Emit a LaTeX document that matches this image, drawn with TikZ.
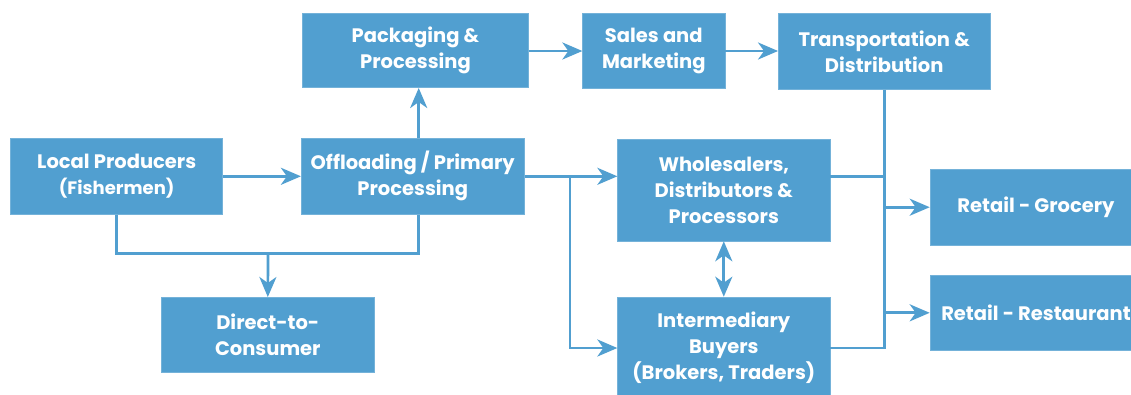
\documentclass[tikz,border=0pt]{standalone}
\usepackage{fontspec}
\setmainfont{Poppins}
\usetikzlibrary{arrows.meta}
\definecolor{boxblue}{RGB}{81,159,208}
\tikzset{
  x=1pt, y=-1pt,
  box/.style={rectangle, fill=boxblue, draw=boxblue!80!white, line width=0.6pt, text=white, align=center,
    font=\fontsize{19.5}{26}\selectfont\bfseries, inner sep=0pt},
  conn/.style={draw=boxblue, line width=2.7pt},
  tip/.tip={Stealth[length=20pt, width=17pt, inset=6pt]},
  arr/.style={conn, -tip},
  darr/.style={conn, tip-tip}
}
\begin{document}
\begin{tikzpicture}
\clip (0,0) rectangle (1131,394);
\fill[white] (0,0) rectangle (1131,394);
% boxes
\node[box, minimum width=212pt, minimum height=76pt] (lp) at (116.7,176.3) {Local Producers\\{\fontsize{18}{26}\selectfont (Fishermen)}};
\node[box, minimum width=223pt, minimum height=76pt] (off) at (412.7,176.3) {Offloading / Primary\\Processing};
\node[box, minimum width=225.6pt, minimum height=74.4pt] (pk) at (415.5,50.5) {Packaging \&\\Processing};
\node[box, minimum width=142.3pt, minimum height=75pt] (sm) at (653.8,51) {Sales and\\Marketing};
\node[box, minimum width=211.7pt, minimum height=76pt] (td) at (884.2,51.3) {Transportation \&\\Distribution};
\node[box, minimum width=212.3pt, minimum height=102pt] (ws) at (723.8,190) {Wholesalers,\\Distributors \&\\Processors};
\node[box, minimum width=212.3pt, minimum height=102pt] (ib) at (723.8,348) {Intermediary\\Buyers\\(Brokers, Traders)};
\node[box, minimum width=212.3pt, minimum height=75.4pt] (dc) at (267.8,335) {Direct-to-\\Consumer};
\node[box, minimum width=212pt, minimum height=75.7pt] (rg) at (1036,207.2) {Retail - Grocery};
\node[box, minimum width=212pt, minimum height=75.7pt] (rr) at (1036,312.8) {Retail - Restaurant};
% helper coordinates
\coordinate (br) at (570,176.3);
\coordinate (mid) at (268,253.3);
% connectors
\draw[arr] (lp.east) -- (off.west);
\draw[arr] ([xshift=6pt]off.north) -- ([xshift=6pt]off.north |- pk.south);
\draw[arr] (pk.east |- sm.west) -- (sm.west);
\draw[arr] (sm.east) -- (sm.east -| td.west);
\draw[arr] (off.east) -- (off.east -| ws.west);
\draw[arr] (br) |- (ib.west);
\draw[darr] (ws.south) -- (ib.north);
\draw[conn] (td.south) -- (td.south |- ib.east) -- (ib.east);
\draw[conn] (br -| ws.east) -- (br -| td.south);
\draw[arr] (td.south |- rg.west) -- (rg.west);
\draw[arr] (td.south |- rr.west) -- (rr.west);
\draw[conn] (lp.south) |- (mid) -| ([xshift=6pt]off.south);
\draw[arr] (mid) -- (dc.north);
\end{tikzpicture}
\end{document}
